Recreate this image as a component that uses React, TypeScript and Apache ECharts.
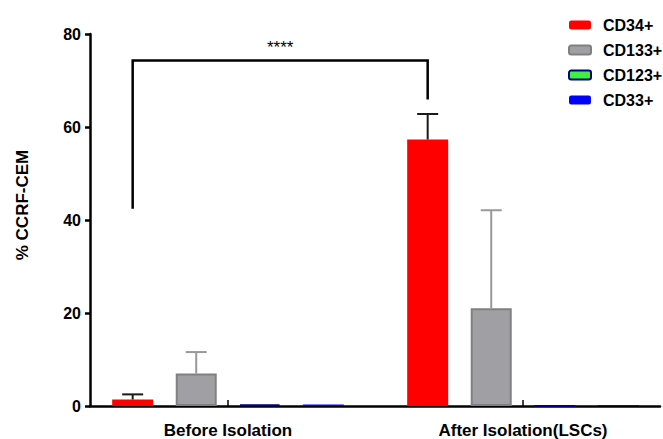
import React, { useEffect, useRef } from 'react';
import * as echarts from 'echarts';

const categories = ['Before Isolation', 'After Isolation(LSCs)'];
const seriesNames = ['CD34+', 'CD133+', 'CD123+', 'CD33+'];
const cd34 = [1.4, 57.3];
const cd34Err = [1.1, 5.5];
const cd133 = [7.0, 21.0];
const cd133Err = [4.6, 21.1];
const cd123 = [0.3, 0];
const cd123Err = [0, 0];
const cd33 = [0.3, 0.2];
const cd33Err = [0, 0];
const yMin = 0;
const yMax = 80;
const yInterval = 20;
const yTitle = '% CCRF-CEM';
const sigLabel = '****';
const sigLeftBottom = 42.4;
const sigTop = 74.3;
const sigRightBottom = 65.9;
const sigLabelValue = 77.2;

const BAR_W = 41;
const GAP_RATIO = 0.55;
const STEP = BAR_W * (1 + GAP_RATIO);
const CAP = 21;
const FONT = '"Liberation Sans", Arial, Helvetica, sans-serif';

const errorSeries = (idx: number, values: number[], errs: number[], color: string) => ({
  type: 'custom',
  xAxisIndex: 0,
  yAxisIndex: 0,
  z: 3,
  silent: true,
  data: values.map((v, i) => [i, v, errs[i]]),
  encode: { x: 0, y: 1 },
  renderItem: (params: any, api: any) => {
    const cat = api.value(0);
    const v = api.value(1);
    const e = api.value(2);
    if (!e) return null;
    const base = api.coord([cat, v]);
    const top = api.coord([cat, v + e]);
    const x = base[0] + (idx - 1.5) * STEP;
    return {
      type: 'group',
      children: [
        { type: 'line', shape: { x1: x, y1: base[1], x2: x, y2: top[1] }, style: { stroke: color, lineWidth: 2 } },
        { type: 'line', shape: { x1: x - CAP / 2, y1: top[1], x2: x + CAP / 2, y2: top[1] }, style: { stroke: color, lineWidth: 2 } },
      ],
    };
  },
});

export default function App() {
  const ref = useRef<HTMLDivElement>(null);
  useEffect(() => {
    if (!ref.current) return;
    const chart = echarts.init(ref.current, null, { renderer: 'svg' });
    const barBase = {
      type: 'bar',
      xAxisIndex: 0,
      yAxisIndex: 0,
      barWidth: BAR_W,
      barGap: GAP_RATIO * 100 + '%',
      z: 2,
    };
    chart.setOption({
      animation: false,
      textStyle: { fontFamily: FONT },
      legend: {
        data: seriesNames,
        orient: 'vertical',
        left: 563,
        top: 12,
        itemWidth: 22,
        itemHeight: 9,
        itemGap: 9,
        textStyle: { fontFamily: FONT, fontWeight: 'bold', fontSize: 16, color: '#000', padding: [0, 0, 0, 7] },
      },
      graphic: [
        {
          type: 'text',
          x: 22.5,
          y: 205,
          rotation: Math.PI / 2,
          style: { text: yTitle, fontFamily: FONT, fontWeight: 'bold', fontSize: 17, fill: '#000', align: 'center', verticalAlign: 'middle' },
        },
      ],
      grid: [
        { left: 80.5, width: 590, top: 34, bottom: 33, outerBoundsMode: 'none', containLabel: false },
        { left: 90, right: 3, top: 34, bottom: 33, outerBoundsMode: 'none', containLabel: false },
      ],
      xAxis: [
        {
          type: 'category',
          gridIndex: 0,
          data: categories,
          axisLine: { show: false },
          axisTick: { show: true, inside: true, alignWithLabel: true, length: 6, lineStyle: { color: '#000', width: 1.5 } },
          axisLabel: { fontFamily: FONT, fontWeight: 'bold', fontSize: 17, color: '#000', margin: 16 },
          splitLine: { show: false },
        },
        {
          type: 'value',
          gridIndex: 1,
          min: 0,
          max: 1,
          axisLine: { show: true, lineStyle: { color: '#000', width: 2.5 } },
          axisTick: { show: false },
          axisLabel: { show: false },
          splitLine: { show: false },
        },
      ],
      yAxis: [
        { type: 'value', gridIndex: 0, min: yMin, max: yMax, show: false, splitLine: { show: false } },
        {
          type: 'value',
          gridIndex: 1,
          min: yMin,
          max: yMax,
          interval: yInterval,
          axisLine: { show: true, lineStyle: { color: '#000', width: 2.5 } },
          axisTick: { show: true, length: 5, lineStyle: { color: '#000', width: 2.5 } },
          axisLabel: { fontFamily: FONT, fontWeight: 'bold', fontSize: 16, color: '#000', margin: 9 },
          splitLine: { show: false },
        },
      ],
      series: [
        { ...barBase, name: seriesNames[0], data: cd34, itemStyle: { color: '#ff0000' } },
        { ...barBase, name: seriesNames[1], data: cd133, itemStyle: { color: '#a0a0a4', borderColor: '#808080', borderWidth: 2 } },
        { ...barBase, name: seriesNames[2], data: cd123, itemStyle: { color: '#40f040', borderColor: '#000080', borderWidth: 2 } },
        { ...barBase, name: seriesNames[3], data: cd33, itemStyle: { color: '#0000ff' } },
        errorSeries(0, cd34, cd34Err, '#1a1a1a'),
        errorSeries(1, cd133, cd133Err, '#999999'),
        errorSeries(2, cd123, cd123Err, '#000080'),
        errorSeries(3, cd33, cd33Err, '#0000ff'),
        {
          type: 'custom',
          xAxisIndex: 0,
          yAxisIndex: 0,
          z: 4,
          silent: true,
          data: [[0, 0]],
          encode: { x: 0, y: 1 },
          renderItem: (params: any, api: any) => {
            const off = -1.5 * STEP;
            const xl = api.coord([0, 0])[0] + off;
            const xr = api.coord([1, 0])[0] + off;
            const yLb = api.coord([0, sigLeftBottom])[1];
            const yT = api.coord([0, sigTop])[1];
            const yRb = api.coord([0, sigRightBottom])[1];
            const yL = api.coord([0, sigLabelValue])[1];
            return {
              type: 'group',
              children: [
                {
                  type: 'polyline',
                  shape: { points: [[xl, yLb], [xl, yT], [xr, yT], [xr, yRb]] },
                  style: { stroke: '#000', lineWidth: 2.5, fill: 'none' },
                },
                {
                  type: 'text',
                  x: (xl + xr) / 2,
                  y: yL,
                  style: { text: sigLabel, fontSize: 17, fontFamily: FONT, fill: '#000', align: 'center', verticalAlign: 'middle' },
                },
              ],
            };
          },
        },
      ],
    });
    return () => chart.dispose();
  }, []);
  return <div ref={ref} style={{ position: 'fixed', left: 0, top: 0, width: 663, height: 439, background: '#fff' }} />;
}
